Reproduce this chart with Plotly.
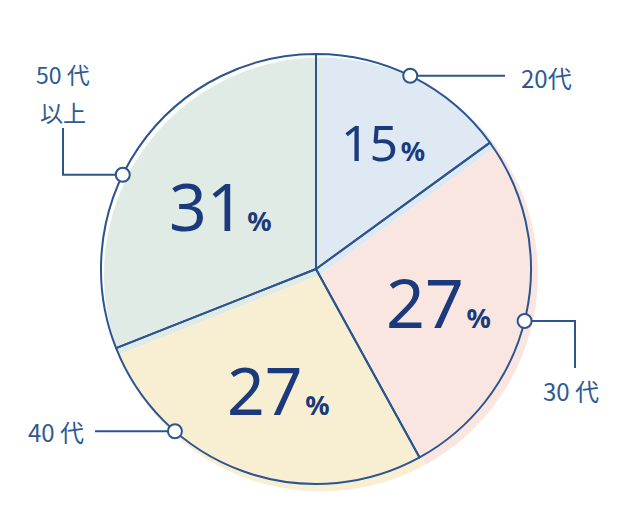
import math
import plotly.graph_objects as go

# ---- data ----
labels = ["20代", "30代", "40代", "50代以上"]
values = [15, 27, 27, 31]
pct_text = ["15", "27", "27", "31"]
label_text = [["20代"], ["30 代"], ["40 代"], ["50 代", "以上"]]
fill_colors = ["#dfe9f4", "#fae6e0", "#f8efd2", "#dfebe4"]

# ---- style / layout ----
W, H = 618, 528
NAVY = "#2c5590"
TXT = "#1b3a7b"
LBL = "#2e5a91"
cx, cy, r = 316, 269, 215          # outline pie (pixels)
fcx, fcy, fr = 321, 274.5, 217     # offset fill pie (pixels)

def px(x):
    return x / W

def py(y):
    return 1 - y / H

def dom(c_x, c_y, rad):
    return dict(x=[px(c_x - rad), px(c_x + rad)], y=[py(c_y + rad), py(c_y - rad)])

fig = go.Figure()
fig.add_trace(go.Pie(
    labels=labels, values=values, sort=False, direction="clockwise", rotation=0,
    marker=dict(colors=fill_colors, line=dict(width=0)),
    textinfo="none", hoverinfo="skip", showlegend=False,
    domain=dom(fcx, fcy, fr)))
fig.add_trace(go.Pie(
    labels=labels, values=values, sort=False, direction="clockwise", rotation=0,
    marker=dict(colors=["rgba(0,0,0,0)"] * 4, line=dict(width=2, color=NAVY)),
    textinfo="none", hoverinfo="skip", showlegend=False,
    domain=dom(cx, cy, r)))

# percentage labels
pct_pos = [(383, 142, 50), (438, 301, 68), (278, 389, 66), (220, 205, 66)]
annotations = []
for t, (x, y, fs) in zip(pct_text, pct_pos):
    annotations.append(dict(
        x=px(x), y=py(y), xref="paper", yref="paper", showarrow=False,
        xanchor="center", yanchor="middle",
        text=t + "<span style='font-size:10px'> </span>"
                 "<span style='font-size:27px'><b>%</b></span>",
        font=dict(family="Noto Sans", size=fs, color=TXT)))

# leader lines
anchor_deg = [26, 104, 221, 296]
leader_paths = [
    lambda ax, ay: [(ax, ay), (505, ay)],
    lambda ax, ay: [(ax, ay), (575, ay), (575, 368)],
    lambda ax, ay: [(ax, ay), (95, ay)],
    lambda ax, ay: [(ax, ay), (63, ay), (63, 128)],
]
# (x, y, yanchor, size)
label_pos = [[(546, 78, "middle", 24)], [(571, 390, "middle", 24)],
             [(56, 431, "middle", 24)],
             [(63, 92.5, "bottom", 23), (63, 93.5, "top", 23)]]

shapes = []
for deg, path_fn, lts, lps in zip(anchor_deg, leader_paths, label_text, label_pos):
    a = math.radians(deg)
    ax = cx + r * math.sin(a)
    ay = cy - r * math.cos(a)
    pts = path_fn(ax, ay)
    d = "M " + " L ".join(f"{px(x)},{py(y)}" for x, y in pts)
    shapes.append(dict(type="path", path=d, xref="paper", yref="paper",
                       line=dict(color=NAVY, width=2), layer="above"))
    cr = 7
    shapes.append(dict(type="circle", xref="paper", yref="paper",
                       x0=px(ax - cr), x1=px(ax + cr), y0=py(ay + cr), y1=py(ay - cr),
                       fillcolor="white", line=dict(color=NAVY, width=2), layer="above"))
    for lt, (lx, ly, ya, fs) in zip(lts, lps):
        annotations.append(dict(
            x=px(lx), y=py(ly), xref="paper", yref="paper", showarrow=False,
            xanchor="center", yanchor=ya, text=lt, borderpad=0,
            font=dict(family="Noto Sans CJK JP", size=fs, color=LBL)))

fig.update_layout(
    width=W, height=H, margin=dict(l=0, r=0, t=0, b=0),
    paper_bgcolor="white", plot_bgcolor="white",
    shapes=shapes, annotations=annotations, showlegend=False)

fig.write_html("out.html", config={"displayModeBar": False},
               post_script="document.body.style.margin='0';")
